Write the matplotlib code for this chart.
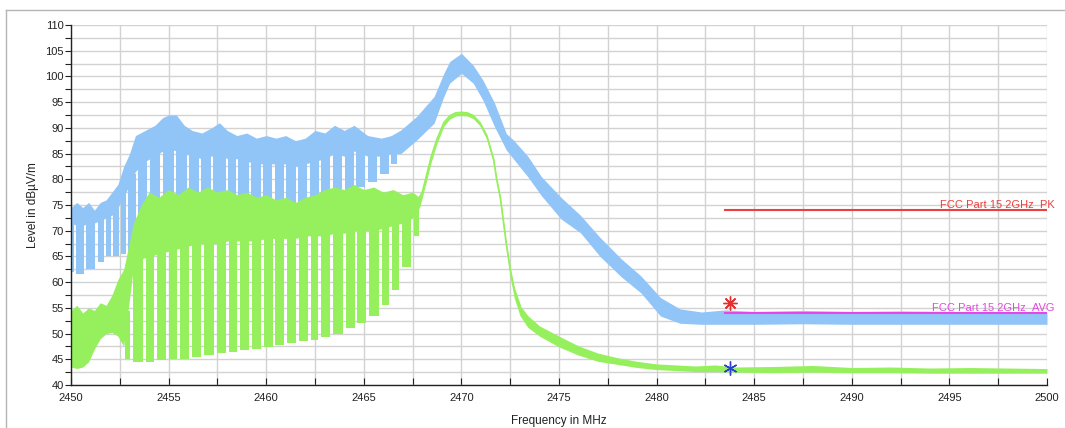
import numpy as np
import matplotlib
matplotlib.use("Agg")
import matplotlib.pyplot as plt
from matplotlib.lines import Line2D

plt.rcParams['font.family'] = ['Liberation Sans', 'DejaVu Sans']

# ---------------- data ----------------
# Peak trace (blue): envelope of the solid band
b_f = [2450.0, 2450.3, 2450.6, 2450.9, 2451.2, 2451.5, 2451.8, 2452.1, 2452.4, 2452.7,
       2453.0, 2453.3, 2453.8, 2454.3, 2454.7, 2455.0, 2455.4, 2455.8, 2456.2, 2456.7,
       2457.2, 2457.6, 2458.0, 2458.5, 2459.0, 2459.5, 2460.0, 2460.5, 2461.0, 2461.5,
       2462.0, 2462.5, 2463.0, 2463.5, 2464.0, 2464.5, 2465.2, 2465.9, 2466.4, 2466.9,
       2467.7, 2468.6, 2469.1, 2469.4, 2470.0, 2470.6, 2471.1, 2471.7, 2472.3, 2472.7,
       2473.4, 2474.1, 2475.1, 2476.1, 2477.1, 2478.2, 2479.2, 2480.2, 2481.2, 2482.3,
       2483.5, 2485.0, 2487.5, 2490.0, 2492.5, 2495.0, 2497.5, 2500.0]
b_hi = [74.5, 75.5, 74.5, 75.5, 74.0, 75.5, 76.0, 77.5, 79.0, 82.5,
        85.0, 88.5, 89.5, 90.5, 92.0, 92.5, 92.5, 90.5, 89.5, 89.0,
        90.0, 91.0, 89.5, 88.5, 89.0, 88.0, 88.5, 88.0, 88.5, 87.5,
        88.0, 89.5, 89.0, 90.5, 89.5, 90.5, 88.5, 88.0, 88.5, 89.6,
        92.2, 96.1, 100.6, 102.9, 104.5, 102.2, 99.3, 94.8, 88.9, 87.5,
        84.5, 80.5, 76.5, 73.0, 68.7, 64.5, 61.2, 57.0, 54.8, 54.2,
        54.6, 54.3, 54.5, 54.3, 54.4, 54.3, 54.2, 54.0]
b_mid = [71.5, 71.0, 71.0, 71.5, 71.5, 72.0, 72.5, 73.0, 74.5, 76.5,
         79.0, 81.5, 83.5, 84.5, 85.5, 86.0, 85.5, 85.0, 84.5, 84.0,
         84.5, 85.0, 84.0, 84.0, 83.5, 83.0, 83.0, 83.0, 83.0, 82.5,
         83.0, 83.5, 84.0, 85.0, 84.5, 85.5, 84.5, 84.5, 85.0, 85.0,
         87.6, 90.9, 96.1, 98.7, 100.6, 98.7, 95.4, 90.2, 85.7, 83.8,
         80.5, 76.8, 72.3, 69.6, 65.0, 61.0, 57.9, 53.4, 52.0, 51.8,
         51.8, 51.8, 51.9, 51.8, 51.8, 51.8, 51.8, 51.8]
# Peak trace: white gaps of the hopping comb and the lower ends of the bars
b_gaps = [2450.2, 2450.72, 2451.32, 2451.75, 2452.1, 2452.5, 2452.86, 2453.37, 2453.96,
          2454.65, 2455.33, 2456.0, 2456.62, 2457.22, 2457.98, 2458.5, 2459.18, 2459.78,
          2460.37, 2460.97, 2461.57, 2462.17, 2462.75, 2463.35, 2463.95, 2464.55,
          2465.15, 2465.75, 2466.35]
b_bar_lo = [62.0, 61.5, 62.5, 64.0, 65.0, 65.0, 65.5, 66.0, 67.0, 67.0, 68.0, 68.0,
            69.0, 69.0, 70.0, 70.0, 70.5, 71.0, 71.0, 72.0, 72.0, 73.0, 74.5, 76.0,
            77.0, 78.0, 78.5, 79.5, 81.0, 83.0]
b_comb = [2450.0, 2466.7]

# Average trace (green)
g_f = [2450.0, 2450.3, 2450.6, 2450.9, 2451.2, 2451.5, 2451.8, 2452.1, 2452.4, 2452.7,
       2453.2, 2453.6, 2454.0, 2454.5, 2455.0, 2455.5, 2456.0, 2456.5, 2457.0, 2457.5,
       2458.0, 2458.5, 2459.0, 2459.5, 2460.0, 2460.5, 2461.0, 2461.5, 2462.0, 2462.5,
       2463.0, 2463.5, 2464.0, 2464.5, 2465.0, 2465.5, 2466.0, 2466.5, 2467.0, 2467.5,
       2467.85, 2468.0, 2468.2, 2468.45, 2468.75, 2469.1, 2469.4, 2469.7, 2470.0, 2470.3,
       2470.6, 2470.95, 2471.3, 2471.65, 2471.8, 2472.0, 2472.3, 2472.5, 2472.7, 2473.0,
       2473.4, 2474.0, 2475.0, 2476.0, 2477.0, 2478.0, 2479.0, 2480.0, 2481.0, 2482.0,
       2483.0, 2484.0, 2486.0, 2488.0, 2490.0, 2492.0, 2494.0, 2496.0, 2498.0, 2500.0]
g_hi = [54.5, 55.5, 54.0, 55.0, 54.5, 56.0, 55.5, 57.5, 60.5, 62.5,
        71.5, 75.0, 77.5, 76.5, 78.0, 77.0, 78.5, 77.5, 78.5, 77.5,
        78.0, 77.0, 77.5, 76.5, 77.0, 76.0, 76.5, 75.5, 76.5, 77.0,
        78.0, 78.5, 78.0, 79.0, 78.0, 78.5, 77.5, 78.0, 77.0, 77.5,
        76.5, 77.5, 80.5, 84.3, 87.8, 91.0, 92.3, 92.9, 93.0, 92.9,
        92.4, 91.0, 88.5, 83.9, 80.2, 76.3, 67.5, 62.5, 58.8, 55.5,
        53.5, 51.5, 49.5, 47.6, 46.2, 45.3, 44.6, 44.1, 43.9, 43.7,
        43.9, 43.5, 43.6, 43.8, 43.4, 43.5, 43.3, 43.4, 43.3, 43.2]
g_mid = [43.5, 43.2, 43.5, 44.5, 47.0, 49.0, 50.0, 50.2, 49.5, 47.5,
         63.0, 64.5, 65.0, 65.5, 66.0, 66.5, 67.0, 67.5, 67.5, 67.5,
         68.0, 68.0, 68.0, 68.0, 68.5, 68.5, 68.5, 68.5, 69.0, 69.0,
         69.0, 69.5, 69.5, 70.0, 70.0, 70.0, 70.5, 71.0, 71.5, 72.5,
         74.5, 76.5, 79.5, 83.3, 87.0, 90.3, 91.7, 92.3, 92.4, 92.3,
         91.8, 90.4, 87.8, 83.1, 79.4, 75.5, 66.5, 61.0, 57.0, 53.5,
         51.2, 49.5, 47.4, 45.8, 44.6, 44.0, 43.4, 43.0, 42.8, 42.6,
         42.6, 42.5, 42.4, 42.5, 42.4, 42.4, 42.3, 42.3, 42.3, 42.3]
g_gaps = [2453.1, 2453.75, 2454.35, 2454.95, 2455.5, 2456.1, 2456.75, 2457.4, 2458.0,
          2458.6, 2459.2, 2459.8, 2460.4, 2461.0, 2461.6, 2462.2, 2462.75, 2463.35,
          2464.0, 2464.6, 2465.2, 2465.85, 2466.35, 2466.9, 2467.5]
g_bar_lo = [45.0, 44.5, 44.5, 44.8, 45.0, 45.0, 45.5, 45.8, 46.2, 46.5, 46.8, 47.0,
            47.4, 47.8, 48.1, 48.5, 48.8, 49.3, 50.0, 51.0, 52.0, 53.5, 55.5, 58.5,
            63.0, 69.0]
g_comb = [2452.75, 2467.85]

# Limits and markers
lim_f = [2483.5, 2500.0]
lim_pk = 74.0
lim_av = 54.0
lim_pk_label = "FCC Part 15 2GHz_PK"
lim_av_label = "FCC Part 15 2GHz_AVG"
mark_f = 2483.75
mark_pk = 55.9
mark_av = 43.4

x_ticks = [2450, 2455, 2460, 2465, 2470, 2475, 2480, 2485, 2490, 2495, 2500]
y_ticks = [40, 45, 50, 55, 60, 65, 70, 75, 80, 85, 90, 95, 100, 105, 110]

# ---------------- drawing ----------------
BLUE = '#92c5f7'
GREEN = '#96f05e'


def draw_comb(ax, f, hi, mid, gaps, bar_lo, span, gap_w, color, z):
    ax.fill_between(f, mid, hi, color=color, lw=0, zorder=z)
    f = np.asarray(f, float)
    gaps = np.asarray(gaps, float)
    left = np.concatenate([[span[0]], gaps + gap_w / 2])
    right = np.concatenate([gaps - gap_w / 2, [span[1]]])
    centers = (left + right) / 2
    widths = right - left
    bottoms = np.asarray(bar_lo, float)
    tops = np.interp(centers, f, np.asarray(mid, float)) + 1.0
    ax.bar(centers, tops - bottoms, width=widths, bottom=bottoms, color=color,
           lw=0, zorder=z, align='center')


fig = plt.figure(figsize=(10.65, 4.28), dpi=100)
ax = fig.add_axes([71 / 1065, 1 - 385 / 428, 976 / 1065, 360 / 428])

draw_comb(ax, b_f, b_hi, b_mid, b_gaps, b_bar_lo, b_comb, 0.13, BLUE, 2)
draw_comb(ax, g_f, g_hi, g_mid, g_gaps, g_bar_lo, g_comb, 0.15, GREEN, 3)
ax.plot(g_f[40:60], g_hi[40:60], color=GREEN, lw=1.3, zorder=3)

ax.plot(lim_f, [lim_pk, lim_pk], color='#e8413f', lw=1.5, zorder=4)
ax.plot(lim_f, [lim_av, lim_av], color='#e447e4', lw=1.5, zorder=4)
ax.text(lim_f[1] + 0.4, lim_pk + 0.25, lim_pk_label, color='#e8413f', fontsize=8,
        ha='right', va='bottom', clip_on=False, zorder=5)
ax.text(lim_f[1] + 0.4, lim_av + 0.25, lim_av_label, color='#e447e4', fontsize=8,
        ha='right', va='bottom', clip_on=False, zorder=5)

ax.plot([mark_f], [mark_pk], marker=(8, 2, 0), color='#e03030', ms=10, mew=1.0,
        linestyle='none', zorder=6)
ax.plot([mark_f], [mark_pk], marker='o', color='#e03030', ms=2.5, linestyle='none', zorder=6)
ax.plot([mark_f], [mark_av], marker=(6, 2, 0), color='#2f3fd0', ms=10, mew=1.0,
        linestyle='none', zorder=6)

ax.set_xlim(2450, 2500)
ax.set_ylim(40, 110)
ax.set_xticks(x_ticks)
ax.set_yticks(y_ticks)
ax.set_xticks(np.arange(2452.5, 2500, 5.0), minor=True)
ax.set_yticks(np.arange(42.5, 110, 5.0), minor=True)
ax.grid(True, which='both', color='#d2d2d2', lw=1.0, zorder=0)
ax.set_axisbelow(True)
for s in ('top', 'right'):
    ax.spines[s].set_visible(False)
for s in ('left', 'bottom'):
    ax.spines[s].set_color('#222222')
    ax.spines[s].set_linewidth(1.0)
    ax.spines[s].set_zorder(7)
ax.tick_params(axis='x', which='both', direction='in', length=5, width=0.8,
               labelsize=8, pad=6, colors='#222222')
ax.tick_params(axis='y', which='both', direction='out', length=4, width=0.8,
               labelsize=8, pad=1, colors='#222222')
ax.set_xlabel('Frequency in MHz', fontsize=8.5, color='#222222')
ax.xaxis.set_label_coords(0.5, -0.1)
ax.xaxis.label.set_va('center')
ax.set_ylabel('Level in dBµV/m', fontsize=8.5, color='#222222')
ax.yaxis.set_label_coords(-0.039, 0.5)
ax.yaxis.label.set_va('center')

# outer frame
fig.add_artist(Line2D([6 / 1065, 1.0], [1 - 10 / 428, 1 - 10 / 428],
                      transform=fig.transFigure, color='#b5b5b5', lw=1.0))
fig.add_artist(Line2D([6 / 1065, 6 / 1065], [0.0, 1 - 10 / 428],
                      transform=fig.transFigure, color='#b5b5b5', lw=1.0))

fig.savefig('out.png', dpi=100, facecolor='white')
